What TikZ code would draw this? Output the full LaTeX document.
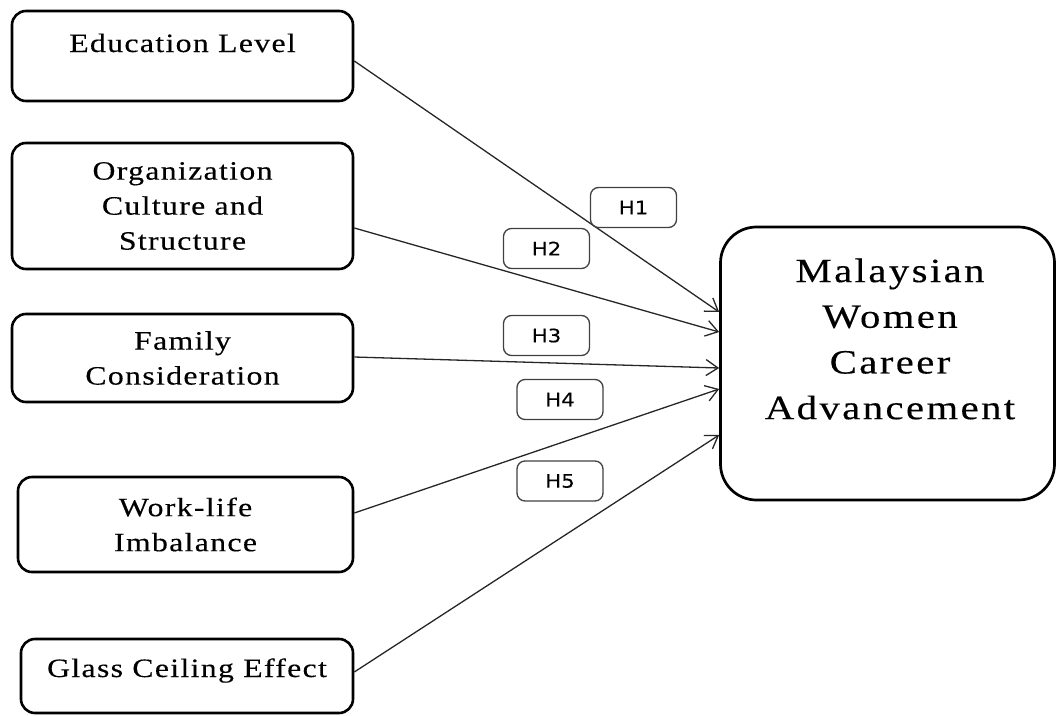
\documentclass[tikz,border=0pt]{standalone}
\usepackage{fontspec}
\setmainfont{Liberation Serif}
\newfontfamily\smallspaced[FakeStretch=1.2,LetterSpace=5,FakeBold=0.3]{Liberation Serif}
\newfontfamily\bigspaced[FakeStretch=1.2,LetterSpace=7,FakeBold=0.3]{Liberation Serif}
\newfontfamily\hfont[FakeStretch=1.15,FakeBold=0.3]{DejaVu Sans}
\usetikzlibrary{arrows.meta}
\begin{document}
\begin{tikzpicture}[x=1pt,y=-1pt,
  box/.style={draw=black, line width=2.6pt, rounded corners=14pt, inner sep=2pt, align=center,
    font=\smallspaced\fontsize{26.5}{35}\selectfont, text=black},
  bigbox/.style={draw=black, line width=2.7pt, rounded corners=36pt},
  bigtext/.style={align=center, inner sep=0pt, font=\bigspaced\fontsize{34}{45.7}\selectfont, text=black},
  hbox/.style={draw=black!75, line width=1.3pt, rounded corners=8pt, minimum width=86pt,
    minimum height=40pt, inner sep=0pt, font=\hfont\fontsize{18.5}{20}\selectfont, text=black},
  conn/.style={draw=black!85, line width=1.3pt,
    -{Straight Barb[length=12pt,width=16pt,line width=1.3pt]}}
]
\useasboundingbox (0,0) rectangle (1057,715);

% left boxes
\node[box, minimum width=341pt, minimum height=90pt, text height=18pt, text depth=26pt] (edu) at (182.5,56) {Education Level};
\node[box, minimum width=341pt, minimum height=126pt] (org) at (182.5,206) {Organization\\Culture and\\Structure};
\node[box, minimum width=341pt, minimum height=88pt] (fam) at (182.5,358) {Family\\Consideration};
\node[box, minimum width=335pt, minimum height=95pt] (wlb) at (185.5,524.5) {Work-life\\Imbalance};
\node[box, minimum width=332pt, minimum height=74pt, text height=18pt, text depth=16pt] (gce) at (187,676) {Glass Ceiling Effect};

% target box
\node[bigbox, minimum width=334pt, minimum height=273pt] (mwca) at (887.5,363.5) {};
\node[bigtext] (mwcaT) at (890,339) {Malaysian\\Women\\Career\\Advancement};

% arrow end points on the target box
\coordinate (e1) at ([yshift=51.5pt]mwca.west);
\coordinate (e2) at ([yshift=31.5pt]mwca.west);
\coordinate (e3) at ([yshift=-4.5pt]mwca.west);
\coordinate (e4) at ([yshift=-25.5pt]mwca.west);
\coordinate (e5) at ([yshift=-71.5pt]mwca.west);

% connectors
\draw[conn] ([yshift=-5pt]edu.east) -- (e1);
\draw[conn] ([yshift=-22pt]org.east) -- (e2);
\draw[conn] ([yshift=1pt]fam.east) -- (e3);
\draw[conn] ([yshift=11.5pt]wlb.east) -- (e4);
\draw[conn] ([yshift=4pt]gce.east) -- (e5);

% hypothesis labels
\node[hbox] (h1) at (633.5,207.5) {H1};
\node[hbox] (h2) at (546.5,248.5) {H2};
\node[hbox] (h3) at (546.5,335.5) {H3};
\node[hbox] (h4) at (560,399.5) {H4};
\node[hbox] (h5) at (560,481) {H5};
\end{tikzpicture}
\end{document}
